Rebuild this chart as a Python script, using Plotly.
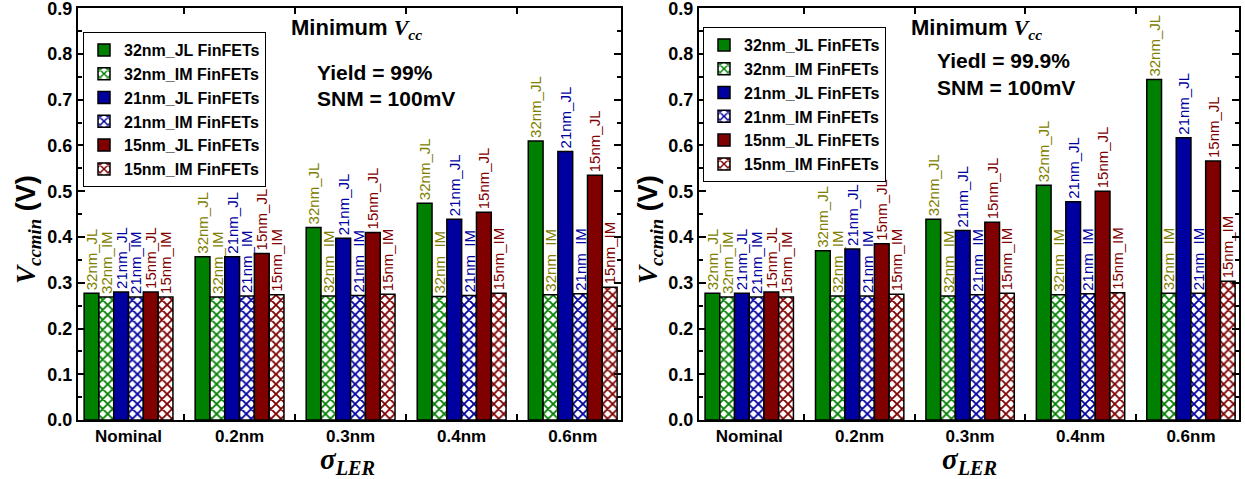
import plotly.graph_objects as go

categories = ["Nominal", "0.2nm", "0.3nm", "0.4nm", "0.6nm"]

# Left panel: Yield = 99%
jl32_a = [0.277, 0.357, 0.421, 0.474, 0.610]
im32_a = [0.269, 0.269, 0.271, 0.270, 0.274]
jl21_a = [0.280, 0.357, 0.397, 0.439, 0.587]
im21_a = [0.269, 0.271, 0.272, 0.272, 0.276]
jl15_a = [0.280, 0.364, 0.410, 0.454, 0.535]
im15_a = [0.269, 0.274, 0.275, 0.277, 0.290]

# Right panel: Yield = 99.9%
jl32_b = [0.277, 0.370, 0.439, 0.513, 0.744]
im32_b = [0.269, 0.271, 0.271, 0.274, 0.277]
jl21_b = [0.277, 0.374, 0.414, 0.477, 0.617]
im21_b = [0.269, 0.271, 0.274, 0.276, 0.277]
jl15_b = [0.280, 0.385, 0.432, 0.500, 0.566]
im15_b = [0.269, 0.275, 0.277, 0.278, 0.303]

series_names = ["32nm_JL FinFETs", "32nm_IM FinFETs", "21nm_JL FinFETs",
                "21nm_IM FinFETs", "15nm_JL FinFETs", "15nm_IM FinFETs"]
bar_labels = ["32nm_JL", "32nm_IM", "21nm_JL", "21nm_IM", "15nm_JL", "15nm_IM"]
bar_colors = ["#008000", "#008000", "#0000A0", "#0000A0", "#800000", "#800000"]
label_colors = ["#808000", "#808000", "#0000A0", "#0000A0", "#800000", "#800000"]
hatched = [False, True, False, True, False, True]

left_values = [jl32_a, im32_a, jl21_a, im21_a, jl15_a, im15_a]
right_values = [jl32_b, im32_b, jl21_b, im21_b, jl15_b, im15_b]

SANS = "Liberation Sans, Arial, sans-serif"
SERIF = "Liberation Serif, Times New Roman, serif"

fig = go.Figure()

for panel, (vals_list, xa, ya, lg) in enumerate([(left_values, "x", "y", "legend"),
                                                  (right_values, "x2", "y2", "legend2")]):
    for i, vals in enumerate(vals_list):
        if hatched[i]:
            marker = dict(color="white",
                          pattern=dict(shape="x", fgcolor=bar_colors[i], bgcolor="white",
                                       fgopacity=1, size=7, solidity=0.45, fillmode="overlay"),
                          line=dict(color="black", width=1.5))
        else:
            marker = dict(color=bar_colors[i], line=dict(color="black", width=1.5))
        fig.add_trace(go.Bar(
            x=categories, y=vals, name=series_names[i], marker=marker,
            xaxis=xa, yaxis=ya, legend=lg,
            text=[bar_labels[i]] * len(vals), textposition="outside", textangle=-90,
            textfont=dict(color=label_colors[i], size=15, family=SANS),
            constraintext="none", cliponaxis=False, hoverinfo="skip",
        ))

axis_common = dict(showline=True, linecolor="black", linewidth=2, mirror="ticks",
                   ticks="inside", tickcolor="black", tickwidth=1.5, showgrid=False,
                   zeroline=False, automargin=False)

xcommon = dict(axis_common, type="category", tickson="boundaries", ticklen=6,
               range=[-0.455, 4.435],
               tickfont=dict(family=SANS, size=17, color="black", weight="bold"))
ycommon = dict(axis_common, range=[0, 0.9005], dtick=0.1, tick0=0, ticklen=7,
               tickformat=".1f", ticklabeloverflow="allow",
               tickfont=dict(family=SANS, size=18, color="black", weight="bold"),
               minor=dict(dtick=0.05, ticks="inside", ticklen=4, tickcolor="black", tickwidth=1.5))

W, H = 1245, 479
def px(x):
    return x / W
def py(y):
    return 1 - y / H

legend_common = dict(bgcolor="white", bordercolor="black", borderwidth=1,
                     font=dict(family=SANS, size=16, color="black", weight="bold"),
                     xanchor="left", yanchor="top", tracegroupgap=0, itemwidth=30)

fig.update_layout(
    width=W, height=H,
    margin=dict(l=0, r=0, t=0, b=0, autoexpand=False),
    paper_bgcolor="white", plot_bgcolor="white",
    barmode="group", bargap=0.2, bargroupgap=0.0,
    xaxis=dict(xcommon, domain=[px(78), px(621)], anchor="y"),
    yaxis=dict(ycommon, domain=[py(420), py(8)], anchor="x"),
    xaxis2=dict(xcommon, domain=[px(699), px(1239)], anchor="y2"),
    yaxis2=dict(ycommon, domain=[py(420), py(8)], anchor="x2"),
    legend=dict(legend_common, x=px(83), y=py(32)),
    legend2=dict(legend_common, x=px(703), y=py(27)),
    showlegend=True,
)

title_font = dict(family=SANS, size=21, color="black")
min_font = dict(family=SANS, size=22, color="black")
vcc = "<b>Minimum </b><span style='font-family:Liberation Serif'><b><i>V<sub>cc</sub></i></b></span>"
ylab = ("<span style='font-family:Liberation Serif'><b><i>V<sub>ccmin</sub></i></b></span>"
        "<b> (V)</b>")
xlab = "<b><i>σ<sub>LER</sub></i></b>"

annotations = [
    dict(text=vcc, x=px(289), y=py(29), xanchor="left", yanchor="middle", font=min_font),
    dict(text="<b>Yield = 99%</b>", x=px(315), y=py(72), xanchor="left", yanchor="middle", font=title_font),
    dict(text="<b>SNM = 100mV</b>", x=px(315), y=py(98), xanchor="left", yanchor="middle", font=title_font),
    dict(text=vcc, x=px(909), y=py(29), xanchor="left", yanchor="middle", font=min_font),
    dict(text="<b>Yiedl = 99.9%</b>", x=px(935), y=py(60), xanchor="left", yanchor="middle", font=title_font),
    dict(text="<b>SNM = 100mV</b>", x=px(935), y=py(87), xanchor="left", yanchor="middle", font=title_font),
    dict(text=ylab, x=px(28), y=py(230), textangle=-90, xanchor="center", yanchor="middle",
         font=dict(family=SANS, size=27, color="black")),
    dict(text=ylab, x=px(650), y=py(230), textangle=-90, xanchor="center", yanchor="middle",
         font=dict(family=SANS, size=27, color="black")),
    dict(text=xlab, x=px(347), y=py(461), xanchor="center", yanchor="middle",
         font=dict(family=SERIF, size=29, color="black")),
    dict(text=xlab, x=px(969), y=py(461), xanchor="center", yanchor="middle",
         font=dict(family=SERIF, size=29, color="black")),
]
for a in annotations:
    a.update(xref="paper", yref="paper", showarrow=False)
fig.update_layout(annotations=annotations)

fig.write_html("out.html", config={"displayModeBar": False},
               post_script="document.body.style.margin='0';document.body.style.overflow='hidden';")
